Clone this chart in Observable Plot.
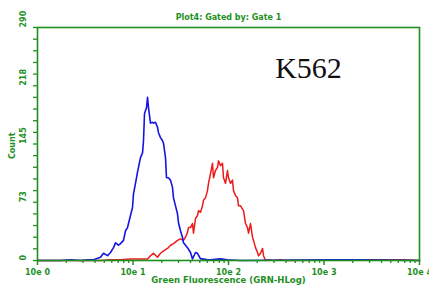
<!DOCTYPE html>
<html><head><meta charset="utf-8">
<script src="https://cdn.jsdelivr.net/npm/d3@7"></script>
<script src="https://cdn.jsdelivr.net/npm/@observablehq/plot@0.6"></script>
<style>body{margin:0;background:#fff} svg{display:block}</style>
</head><body><div id="chart"></div>
<script>
const blueX = [1,1.74,2.22,2.82,3.42,3.86,4.57,4.91,5.41,5.81,6.25,6.56,7.05,7.40,7.95,8.35,8.76,9.41,9.88,10.12,10.62,11.15,11.98,12.58,12.88,13.20,13.85,14.19,14.54,15.25,16.00,16.39,17.20,18.05,18.49,19.41,20.37,20.86,21.89,22.43,23.53,24.70,25.92,26.55,27.86,29.24,29.95,31.43,32.98,33.79,37.21,40.00,41.98,45.12,47.35,50.91,53.42,60.26,64.79,82.48,97.6,133.6,1257,1805,2137,10000];
const blueCount = [0,0,1,0,1,1,4,9,6,10,16,22,19,21,25,37,41,56,66,83,96,110,128,134,149,183,190,203,190,171,172,171,172,166,159,153,149,146,128,103,103,100,91,78,68,58,47,37,29,22,16,10,2,10,9,2,2,1,1,2,1,0,1,1,1,0];
const redX = [1,4.57,5.81,7.40,9.41,11.98,14.19,15.25,16.39,18.05,19.41,20.86,22.98,24.70,26.55,29.24,31.43,33.79,35.45,37.21,38.12,40.00,41.98,43.00,45.12,47.35,48.52,50.91,53.42,54.73,57.43,60.26,61.74,64.79,67.99,69.65,73.10,76.70,78.58,82.48,86.53,88.63,93.03,97.6,100,104.9,110.1,112.8,118.4,124.2,127.3,133.6,143.6,150.7,158.1,162.0,170.0,178.4,182.7,191.8,201.3,206.2,216.4,227.0,232.6,244.0,262.2,296.0,350.4,395.3,3220,6801,10000];
const redCount = [0,0,1,1,2,2,2,6,9,4,9,12,15,19,21,25,27,25,29,35,41,41,46,34,52,56,62,60,68,75,78,87,96,108,121,103,112,116,124,118,121,103,96,112,103,96,100,87,81,78,68,68,62,46,41,34,46,29,25,16,10,6,9,15,6,0,1,0,1,0,1,1,0];
const xTickValues = [1,10,100,1000,10000];
const xTickLabels = ["10e 0","10e 1","10e 2","10e 3","10e 4"];
const yTickValues = [0,72.5,145,217.5,290];
const yTickLabels = ["0","73","145","218","290"];
const titleText = "Plot4: Gated by: Gate 1";
const xLabel = "Green Fluorescence (GRN-HLog)";
const yLabel = "Count";
const annotation = ["K562"];

const green = "#1f8f1f";
const blue = blueX.map((x, i) => ({x, y: blueCount[i]}));
const red = redX.map((x, i) => ({x, y: redCount[i]}));
const minorX = [];
for (let d = 1; d <= 1000; d *= 10) for (let k = 2; k <= 9; k++) minorX.push(k * d);
const minorY = d3.range(0, 290.1, 14.5);
const tf = {fontWeight: "bold", fontFamily: "DejaVu Sans"};

const chart = Plot.plot({
  width: 429, height: 288,
  marginLeft: 37, marginRight: 10, marginTop: 27, marginBottom: 28,
  x: {type: "log", domain: [1, 10000]},
  y: {domain: [0, 290]},
  style: {background: "#fff", color: green, fontFamily: "DejaVu Sans"},
  marks: [
    Plot.line(red, {x: "x", y: "y", stroke: "#ee1a1a", strokeWidth: 1.5}),
    Plot.line(blue, {x: "x", y: "y", stroke: "#1414e6", strokeWidth: 1.6}),
    Plot.frame({stroke: green, strokeWidth: 1.6}),
    Plot.axisX(minorX, {tickSize: 3, tickFormat: () => "", strokeWidth: 1.3, label: null}),
    Plot.axisX(xTickValues, {tickSize: 5, tickPadding: 4, strokeWidth: 1.5, fontSize: 8, ...tf, label: null,
      tickFormat: d => xTickLabels[xTickValues.indexOf(d)]}),
    Plot.axisY(minorY, {tickSize: 4, tickFormat: () => "", strokeWidth: 1.3, label: null}),
    Plot.text(yTickValues, {y: d => d, text: (d, i) => yTickLabels[i], frameAnchor: "left", dx: -14, rotate: -90, fontSize: 8, fill: green, ...tf}),
    Plot.text([yLabel], {text: d => d, frameAnchor: "left", dx: -25, dy: 15, rotate: -90, fontSize: 8, fill: green, ...tf}),
    Plot.text([xLabel], {text: d => d, frameAnchor: "bottom", dy: 22.5, fontSize: 8.5, fill: green, ...tf}),
    Plot.text([titleText], {text: d => d, frameAnchor: "top", dy: -13, fontSize: 8, fill: green, ...tf}),
    Plot.text(annotation, {text: d => d, frameAnchor: "top", dx: 80, dy: 29, fontSize: 30, fill: "#111", fontFamily: "Liberation Serif", fontWeight: "normal"})
  ]
});
document.getElementById("chart").append(chart);
</script>
</body></html>
